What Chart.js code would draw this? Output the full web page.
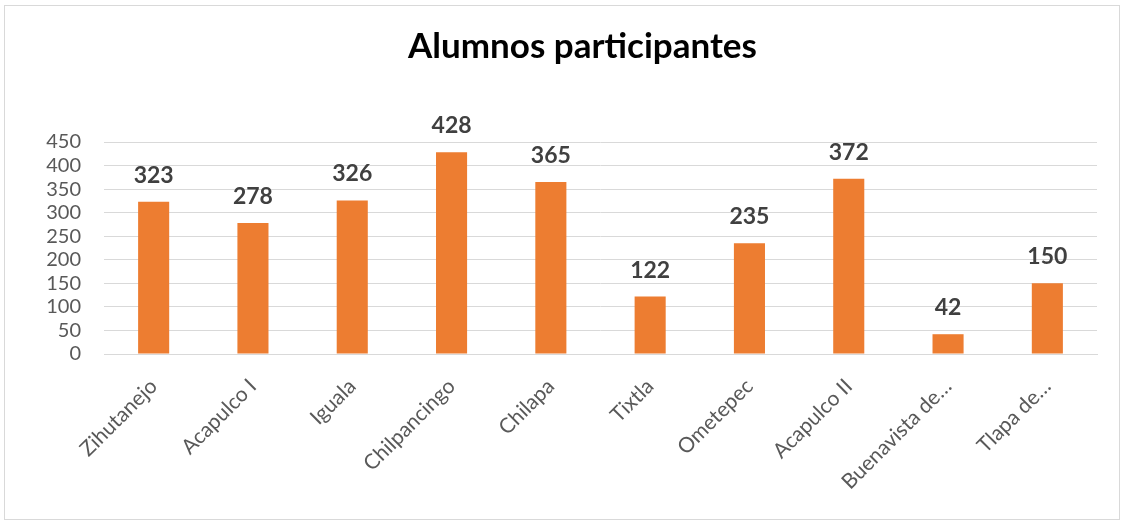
<!DOCTYPE html>
<html>
<head>
<meta charset="utf-8">
<script src="https://cdn.jsdelivr.net/npm/chart.js@4"></script>
<style>
  html, body { margin: 0; padding: 0; background: #fff; }
  #wrap { position: relative; width: 1125px; height: 521px; }
  #frame { position: absolute; left: 4px; top: 5px; width: 1114px; height: 513px;
           border: 1px solid #d9d9d9; pointer-events: none; }
  canvas { position: absolute; left: 0; top: 0; }
</style>
</head>
<body>
<div id="wrap">
  <canvas id="chart" width="1125" height="521"></canvas>
  <div id="frame"></div>
</div>
<script>
  // ---- data ----
  const categories = ["Zihutanejo", "Acapulco I", "Iguala", "Chilpancingo", "Chilapa",
                      "Tixtla", "Ometepec", "Acapulco II", "Buenavista de…", "Tlapa de…"];
  const alumnos = [323, 278, 326, 428, 365, 122, 235, 372, 42, 150];
  const yTicks = [0, 50, 100, 150, 200, 250, 300, 350, 400, 450];

  const FONT = "Lato, 'Open Sans', sans-serif";
  const barColor = "#ED7D31";
  const gridColor = "#d9d9d9";
  const tickColor = "#595959";

  // simple value labels above bars (no datalabels plugin available)
  const valueLabels = {
    id: "valueLabels",
    afterLayout(chart) {
      // title in the reference is centred a bit right of the canvas centre
      if (chart.titleBlock) chart.titleBlock.left += 68;
    },
    afterDatasetsDraw(chart) {
      const { ctx } = chart;
      const meta = chart.getDatasetMeta(0);
      ctx.save();
      ctx.font = `bold 23px ${FONT}`;
      ctx.fillStyle = "#404040";
      ctx.textAlign = "center";
      ctx.textBaseline = "alphabetic";
      meta.data.forEach((bar, i) => {
        ctx.fillText(String(alumnos[i]), bar.x, bar.y - 19);
      });
      ctx.restore();
    }
  };

  new Chart(document.getElementById("chart"), {
    type: "bar",
    data: {
      labels: categories,
      datasets: [{
        label: "Alumnos",
        data: alumnos,
        backgroundColor: barColor,
        borderWidth: 0,
        categoryPercentage: 1,
        barPercentage: 0.313
      }]
    },
    options: {
      responsive: false,
      animation: false,
      layout: { padding: { left: 0, right: 28, top: 0, bottom: 0 } },
      plugins: {
        legend: { display: false },
        tooltip: { enabled: false },
        title: {
          display: true,
          text: "Alumnos participantes",
          color: "#000",
          font: { family: FONT, size: 35, weight: "bold" },
          padding: { top: 26, bottom: 74 }
        }
      },
      scales: {
        x: {
          grid: { display: false, drawTicks: false },
          border: { display: true, color: gridColor, width: 1 },
          ticks: {
            color: tickColor,
            font: { family: FONT, size: 21 },
            maxRotation: 45, minRotation: 45,
            padding: 20,
            autoSkip: false
          },
          afterFit: s => { s.height = 167; }
        },
        y: {
          min: 0, max: 450,
          afterBuildTicks: s => { s.ticks = yTicks.map(v => ({ value: v })); },
          grid: { color: gridColor, lineWidth: 1, drawTicks: false },
          border: { display: false },
          ticks: {
            color: tickColor,
            font: { family: FONT, size: 20 },
            padding: 23,
            autoSkip: false
          },
          afterFit: s => { s.width = 104; }
        }
      }
    },
    plugins: [valueLabels]
  });
</script>
</body>
</html>
